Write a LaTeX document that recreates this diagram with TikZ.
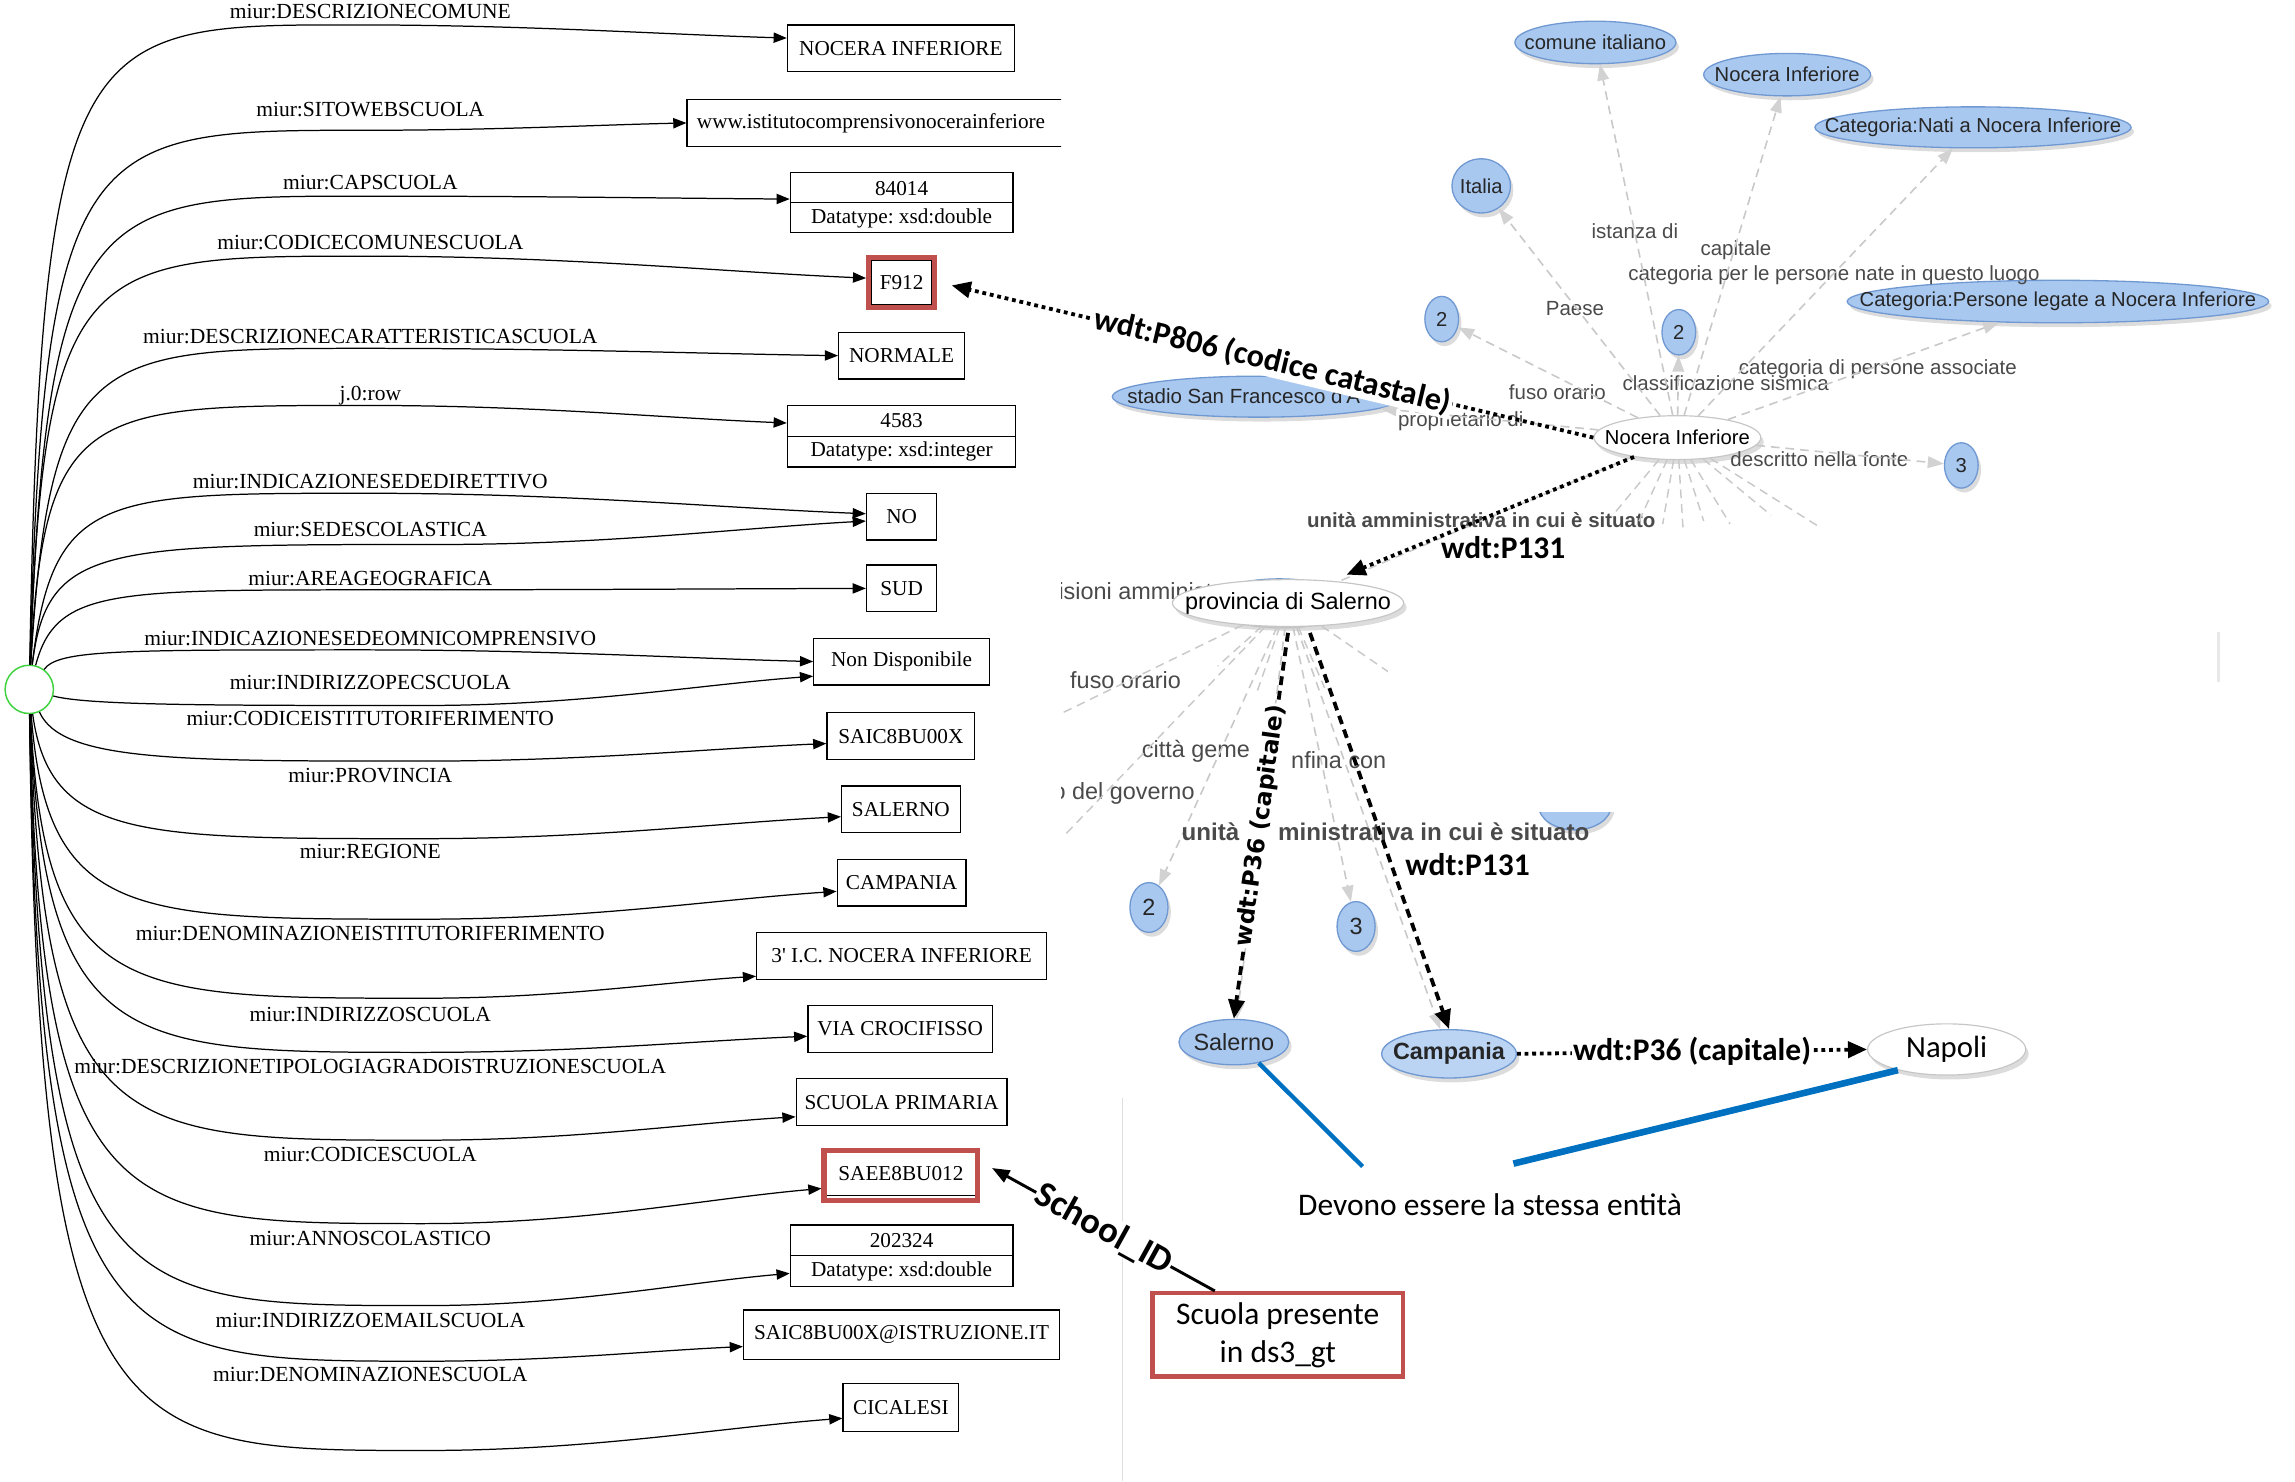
\documentclass[tikz,border=0pt]{standalone}
\usepackage{fontspec}
\setmainfont{Liberation Serif}
\newfontfamily\arialf{Liberation Sans}
\newfontfamily\calf{Carlito}
\newfontfamily\dejaf{DejaVu Sans}
\usetikzlibrary{arrows.meta,calc,shadows,shapes.geometric}
\frenchspacing
\definecolor{bluefill}{HTML}{A9C8F0}
\definecolor{bluefill2}{HTML}{BBD4F4}
\definecolor{blueedge}{HTML}{7099D2}
\definecolor{redb}{HTML}{C0504D}
\definecolor{linkblue}{HTML}{0070C0}
\definecolor{glabel}{HTML}{4A4A4A}
\definecolor{gline}{HTML}{C9C9C9}
\definecolor{circg}{HTML}{3ED23E}
\newcommand\fsz[1]{\fontsize{#1}{#1}\selectfont}
\newcommand\zb[1]{\makebox[0pt]{#1}}
\newcommand\ledge[5]{%
  \coordinate (mm) at (#2,#3);
  \draw[ledge] (c) .. controls (#4,#3) and (#5,#3) .. (mm) .. controls ($(mm)!0.4!(mm -| #1)$) and ($(#1)!0.3!(mm)$) .. (#1);}
\tikzset{
  lbl/.style={font=\fsz{14.7}, inner sep=0pt},
  rbox/.style={draw, line width=0.9pt, font=\fsz{14.5}, inner sep=0pt},
  btxt/.style={font=\fsz{14.5}, inner sep=0pt},
  redbox/.style={draw=redb, line width=3.5pt, inner sep=0pt},
  ledge/.style={line width=0.85pt, -{Triangle[length=9pt,width=7pt]}},
  shad/.style={drop shadow={shadow xshift=2pt,shadow yshift=-3pt,opacity=0.28}},
  bnode/.style={ellipse, fill=bluefill, draw=blueedge, line width=0.9pt, inner sep=0pt, text=black!85, font=\arialf\fsz{13.8}, shad},
  wnode/.style={ellipse, fill=white, draw=gray!45, line width=0.8pt, inner sep=0pt, shad},
  gedge/.style={draw=gline, line width=1.1pt, dash pattern=on 6pt off 4pt, -{Triangle[length=11pt,width=8pt,color=gray!35]}},
  gstub/.style={draw=gline, line width=1pt, dash pattern=on 6pt off 4pt},
  glab/.style={text=glabel, font=\arialf\fsz{14}, inner sep=0pt},
  glabb/.style={text=glabel, font=\arialf\bfseries\fsz{14}, inner sep=0pt},
  plab/.style={text=glabel, font=\arialf\fsz{16}, inner sep=0pt},
  plabb/.style={text=glabel, font=\arialf\bfseries\fsz{16.5}, inner sep=0pt},
  dotarrow/.style={line width=2.6pt, dash pattern=on 2.6pt off 2.6pt, -{Triangle[length=13pt,width=11pt]}},
  dasharrow/.style={line width=2.6pt, dash pattern=on 6pt off 4pt, -{Triangle[length=13pt,width=11pt]}},
  annot/.style={font=\calf\bfseries\fsz{21.5}, inner sep=1pt},
}
\begin{document}
\begin{tikzpicture}[x=1pt,y=-1pt]
\useasboundingbox (0,0) rectangle (1568,1012);

% ---------------- left graph ----------------
\node[rbox, minimum width=155pt, minimum height=32pt] (b1) at (615.5,33) {NOCERA INFERIORE};
\begin{scope}
  \clip (0,0) rectangle (725,1012);
  \node[rbox, anchor=west, minimum width=300pt, minimum height=32pt] (b2) at (469,84) {};
  \node[btxt, anchor=west] (b2t) at (476,84) {www.istitutocomprensivonocerainferiore};
\end{scope}
\node[rbox, minimum width=152pt, minimum height=41pt] (b3) at (616,138.5) {};
\draw[line width=0.9pt] (b3.west) -- (b3.east);
\node[btxt] (b3a) at (616,128.5) {84014};
\node[btxt] (b3b) at (616,149) {Datatype: xsd:double};
\node[rbox, minimum width=41pt, minimum height=30.5pt] (b4) at (616,193) {F912};
\node[redbox, minimum width=45pt, minimum height=34pt] (b4r) at (616,193) {};
\node[rbox, minimum width=86pt, minimum height=32pt] (b5) at (616,243) {NORMALE};
\node[rbox, minimum width=156pt, minimum height=42pt] (b6) at (616,298) {};
\draw[line width=0.9pt] (b6.west) -- (b6.east);
\node[btxt] (b6a) at (616,287.5) {4583};
\node[btxt] (b6b) at (616,308.5) {Datatype: xsd:integer};
\node[rbox, minimum width=48pt, minimum height=32pt] (b7) at (616,353) {NO};
\node[rbox, minimum width=48pt, minimum height=32pt] (b8) at (616,402) {SUD};
\node[rbox, minimum width=120pt, minimum height=32pt] (b9) at (616,452) {Non Disponibile};
\node[rbox, minimum width=101pt, minimum height=32pt] (b10) at (615.5,503) {SAIC8BU00X};
\node[rbox, minimum width=81pt, minimum height=32pt] (b11) at (615.5,553) {SALERNO};
\node[rbox, minimum width=88pt, minimum height=32pt] (b12) at (616,603) {CAMPANIA};
\node[rbox, minimum width=198pt, minimum height=32pt] (b13) at (616,653) {3\textquotesingle{} I.C. NOCERA INFERIORE};
\node[rbox, minimum width=126pt, minimum height=32pt] (b14) at (615,703) {VIA CROCIFISSO};
\node[rbox, minimum width=144pt, minimum height=32pt] (b15) at (616,753) {SCUOLA PRIMARIA};
\node[rbox, minimum width=103pt, minimum height=31pt] (b16) at (615.5,801.5) {SAEE8BU012};
\node[redbox, minimum width=105pt, minimum height=34pt] (b16r) at (615.5,803) {};
\node[rbox, minimum width=152pt, minimum height=42pt] (b17) at (616,858) {};
\draw[line width=0.9pt] (b17.west) -- (b17.east);
\node[btxt] (b17a) at (616,847.5) {202324};
\node[btxt] (b17b) at (616,868.5) {Datatype: xsd:double};
\node[rbox, minimum width=216pt, minimum height=34pt] (b18) at (616,912) {SAIC8BU00X@ISTRUZIONE.IT};
\node[rbox, minimum width=79pt, minimum height=33pt] (b19) at (615.5,961.5) {CICALESI};

\node[lbl] (l1) at (253,8) {miur:DESCRIZIONECOMUNE};
\node[lbl] (l2) at (253,75) {miur:SITOWEBSCUOLA};
\node[lbl] (l3) at (253,125) {miur:CAPSCUOLA};
\node[lbl] (l4) at (253,166) {miur:CODICECOMUNESCUOLA};
\node[lbl] (l5) at (253,230) {miur:DESCRIZIONECARATTERISTICASCUOLA};
\node[lbl] (l6) at (253,270) {j.0:row};
\node[lbl] (l7) at (253,329) {miur:INDICAZIONESEDEDIRETTIVO};
\node[lbl] (l8) at (253,362) {miur:SEDESCOLASTICA};
\node[lbl] (l9) at (253,395) {miur:AREAGEOGRAFICA};
\node[lbl] (l10) at (253,436) {miur:INDICAZIONESEDEOMNICOMPRENSIVO};
\node[lbl] (l11) at (253,466) {miur:INDIRIZZOPECSCUOLA};
\node[lbl] (l12) at (253,491) {miur:CODICEISTITUTORIFERIMENTO};
\node[lbl] (l13) at (253,530) {miur:PROVINCIA};
\node[lbl] (l14) at (253,582) {miur:REGIONE};
\node[lbl] (l15) at (253,638) {miur:DENOMINAZIONEISTITUTORIFERIMENTO};
\node[lbl] (l16) at (253,693) {miur:INDIRIZZOSCUOLA};
\node[lbl] (l17) at (253,729) {miur:DESCRIZIONETIPOLOGIAGRADOISTRUZIONESCUOLA};
\node[lbl] (l18) at (253,789) {miur:CODICESCUOLA};
\node[lbl] (l19) at (253,846) {miur:ANNOSCOLASTICO};
\node[lbl] (l20) at (253,902) {miur:INDIRIZZOEMAILSCUOLA};
\node[lbl] (l21) at (253,939) {miur:DENOMINAZIONESCUOLA};

\node[circle, draw=circg, line width=1pt, fill=white, minimum size=33pt, inner sep=0pt] (c) at (20,471) {};

\coordinate (t1) at ([yshift=7pt]b1.west);
\coordinate (t2) at (b2.west);
\coordinate (t3) at ([yshift=2.5pt]b3.west);
\coordinate (t4) at ([yshift=3pt]b4r.west);
\coordinate (t5) at (b5.west);
\coordinate (t6) at ([yshift=9pt]b6.west);
\coordinate (t7) at ([yshift=2pt]b7.west);
\coordinate (t8) at ([yshift=-3pt]b7.west);
\coordinate (t9) at (b8.west);
\coordinate (t10) at (b9.west);
\coordinate (t11) at ([yshift=-10pt]b9.west);
\coordinate (t12) at ([yshift=-5pt]b10.west);
\coordinate (t13) at ([yshift=-5pt]b11.west);
\coordinate (t14) at ([yshift=-6pt]b12.west);
\coordinate (t15) at ([yshift=-14pt]b13.west);
\coordinate (t16) at ([yshift=-5pt]b14.west);
\coordinate (t17) at ([yshift=-10pt]b15.west);
\coordinate (t18) at ([yshift=-9pt]b16r.west);
\coordinate (t19) at ([yshift=-12pt]b17.west);
\coordinate (t20) at ([yshift=-8pt]b18.west);
\coordinate (t21) at ([yshift=-7.5pt]b19.west);

\ledge{t1}{240}{17}{28}{55}
\ledge{t2}{250}{89}{30}{60}
\ledge{t3}{250}{134}{32}{65}
\ledge{t4}{250}{175}{30}{60}
\ledge{t5}{250}{238}{34}{65}
\ledge{t6}{250}{277}{30}{60}
\ledge{t7}{250}{337}{36}{70}
\ledge{t8}{300}{372}{32}{70}
\ledge{t9}{250}{403}{38}{75}
\ledge{t10}{250}{444}{40}{80}
\ledge{t11}{290}{482}{60}{150}
\ledge{t12}{288}{520}{42}{120}
\ledge{t13}{288}{573}{34}{95}
\ledge{t14}{290}{628}{32}{90}
\ledge{t15}{290}{682}{30}{85}
\ledge{t16}{290}{719}{30}{85}
\ledge{t17}{290}{779}{30}{80}
\ledge{t18}{290}{836}{28}{80}
\ledge{t19}{290}{892}{28}{80}
\ledge{t20}{290}{930}{26}{80}
\ledge{t21}{290}{991}{26}{80}

\draw[gray!25, line width=1pt] (767,750) -- (767,1012);

% ---------------- right graph ----------------
\begin{scope}
\clip (725,0) rectangle (1568,1012);
\node[bnode, minimum width=110pt, minimum height=29pt] (bn1) at (1090,29) {\zb{comune italiano}};
\node[bnode, minimum width=114pt, minimum height=29pt] (bn2) at (1221,51) {\zb{Nocera Inferiore}};
\node[bnode, minimum width=216pt, minimum height=28pt] (bn3) at (1348,87) {\zb{Categoria:Nati a Nocera Inferiore}};
\node[bnode, minimum width=40pt, minimum height=37pt] (bn4) at (1012,127) {\zb{Italia}};
\node[bnode, minimum width=23pt, minimum height=31pt] (bn5) at (985,218) {\zb{2}};
\node[bnode, minimum width=23pt, minimum height=31pt] (bn6) at (1147,227) {\zb{2}};
\node[bnode, minimum width=288pt, minimum height=29pt] (bn7) at (1406,206) {\zb{Categoria:Persone legate a Nocera Inferiore}};
\node[bnode, minimum width=200pt, minimum height=28pt] (bn8) at (860,271) {};
\node[text=black!85, font=\arialf\fsz{14}, anchor=west, inner sep=0pt] (bn8t) at (770,271) {stadio San Francesco d'A};
\node[bnode, minimum width=23pt, minimum height=31pt] (bn9) at (1340,318) {\zb{3}};
\node[wnode, minimum width=114pt, minimum height=30pt, font=\arialf\fsz{13.8}] (wn1) at (1146,299) {\zb{Nocera Inferiore}};

\node[glab] (gl1) at (1117,158) {istanza di};
\node[glab] (gl2) at (1186,171) {capitale};
\node[glab] (gl3) at (1253,188) {categoria per le persone nate in questo luogo};
\node[glab] (gl4) at (1076,211) {Paese};
\node[glab] (gl5) at (1064,268) {fuso orario};
\node[glab] (gl6) at (1179,262) {classificazione sismica};
\node[glab] (gl7) at (1283,252) {categoria di persone associate};
\node[glab] (gl8) at (998,288) {proprietario di};
\node[glab] (gl9) at (1243,314) {descritto nella fonte};
\node[glabb] (gl10) at (1012,355) {unità amministrativa in cui è situato};

\draw[gedge] (wn1) -- (bn1);
\draw[gedge] (wn1) -- (bn2);
\draw[gedge] (wn1) -- (bn3);
\draw[gedge] (wn1) -- (bn4);
\draw[gedge] (wn1) -- (bn5);
\draw[gedge] (wn1) -- (bn6);
\draw[gedge] (wn1) -- (bn7);
\draw[gedge] (wn1) -- (bn8);
\draw[gedge] (wn1) -- (bn9);
\foreach \x/\y [count=\i] in {1101/353,1118/360,1136/358,1150/363,1164/356,1182/358,1210/352,1243/360}{
  \coordinate (sa\i) at (\x,\y);
  \draw[gstub] (wn1) -- (sa\i);}

% provincia part
\begin{scope}
  \clip (725,394) rectangle (1000,440);
  \node[bnode, minimum width=95pt, minimum height=31pt] (bnP) at (874,411) {};
\end{scope}
\node[plab, anchor=west] (pl1) at (723,404) {isioni amministrative};
\node[wnode, minimum width=158pt, minimum height=32pt, font=\arialf\fsz{16}] (wn2) at (880,412) {\zb{provincia di Salerno}};
\node[plab] (pl2) at (769,465) {fuso orario};
\node[plab, anchor=west] (pl3) at (780,513) {città geme};
\node[plab, anchor=west] (pl4) at (719,542) {o del governo};
\node[plab, anchor=west] (pl5) at (882,519) {nfina con};

\node[bnode, minimum width=26pt, minimum height=34pt, font=\arialf\fsz{16}] (bn10) at (785,620) {\zb{2}};
\node[bnode, minimum width=26pt, minimum height=34pt, font=\arialf\fsz{16}] (bn11) at (926.5,633) {\zb{3}};
\node[bnode, minimum width=75pt, minimum height=31pt, font=\arialf\fsz{16}] (bn12) at (843,712) {\zb{Salerno}};
\node[bnode, fill=bluefill2, minimum width=92pt, minimum height=33pt, font=\arialf\bfseries\fsz{16}] (bn13) at (990,720) {\zb{Campania}};
\node[bnode, minimum width=50pt, minimum height=34pt, font=\arialf\fsz{13}] (bnI) at (1076,550) {\zb{Italia}};

\draw[gstub] (wn1) -- (wn2);
\draw[gedge] (wn2) -- (bn10);
\draw[gedge] (wn2) -- (bn11);
\draw[gedge] (wn2) -- (bn12);
\draw[gedge] (wn2) -- (bn13);
\foreach \x/\y [count=\i] in {726/487,727/571,950/460,858/475,905/470,832/455}{
  \coordinate (sb\i) at (\x,\y);
  \draw[gstub] (wn2) -- (sb\i);}

\fill[white] (948,425) rectangle (1515,555);
\draw[gray!18, line width=2pt] (1516,432) -- (1516,466);

\node[plabb] (pl6) at (827,568) {unità};
\node[plabb, anchor=west] (pl7) at (873,568) {ministrativa in cui è situato};
\end{scope}

\node[wnode, minimum width=108pt, minimum height=35pt, font=\calf\fsz{21}] (wn3) at (1330,717) {\zb{Napoli}};

% ---------------- annotations ----------------
\draw[dotarrow] (wn1.west) -- node[annot, sloped, fill=white, font=\calf\bfseries\fsz{22}] (lp806) {wdt:P806 (codice catastale)} ([xshift=10pt,yshift=-2pt]b4r.east);
\draw[dotarrow] (wn1.-156) -- ([xshift=40pt,yshift=3pt]wn2.north);
\node[annot] (lp131a) at (1027,374) {wdt:P131};
\draw[dasharrow] ([yshift=-4pt]wn2.south) -- node[sloped, fill=white, inner sep=1pt, font=\dejaf\bfseries\fsz{16}] (lp36a) {wdt:P36 (capitale)} (bn12.north);
\draw[dasharrow] ([xshift=15pt,yshift=-4pt]wn2.south) -- (bn13.north);
\node[annot, anchor=west] (lp131b) at (959,591) {wdt:P131};
\draw[dotarrow] (bn13.east) -- node[annot, fill=white] (lp36b) {wdt:P36 (capitale)} (wn3.west);

\coordinate (d1) at (931,797);
\coordinate (d2) at (1034,795);
\draw[linkblue, line width=3pt] (bn12.-40) -- (d1);
\draw[linkblue, line width=4.5pt] (wn3.-157) -- (d2);
\node[font=\calf\fsz{21.5}, inner sep=0pt] (dev) at (1018,823) {Devono essere la stessa entità};

\node[draw=redb, line width=3pt, minimum width=171pt, minimum height=57pt, align=center, font=\calf\fontsize{21.5}{26}\selectfont, inner sep=0pt] (sc) at (873,912) {Scuola presente\\in ds3\_gt};
\draw[line width=2pt, -{Triangle[length=12pt,width=9pt]}] ([xshift=-43pt]sc.north) -- node[sloped, fill=white, inner sep=0.5pt, font=\calf\bfseries\fsz{25}] (sid) {School\_ID} ([xshift=8pt,yshift=5pt]b16r.east);
\end{tikzpicture}
\end{document}
